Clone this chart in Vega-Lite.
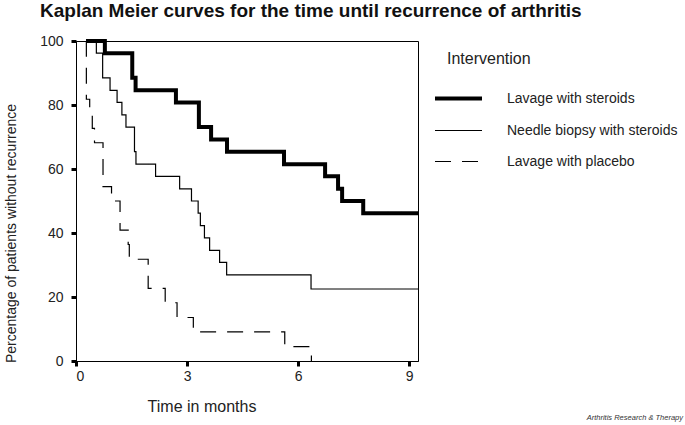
{
  "$schema": "https://vega.github.io/schema/vega-lite/v6.json",
  "background": "white",
  "padding": {"left": 3, "top": 1, "right": 0, "bottom": 0},
  "title": {"text": "Kaplan Meier curves for the time until recurrence of arthritis", "anchor": "start", "frame": "group", "font": "Liberation Sans", "fontSize": 19, "fontWeight": "bold", "color": "#111", "offset": 12, "dx": -36},
  "vconcat": [
    {
      "width": 342,
      "height": 320,
      "title": {"text": "Arthritis Research & Therapy", "orient": "bottom", "anchor": "end", "frame": "group", "font": "Liberation Sans", "fontSize": 7.5, "fontStyle": "italic", "fontWeight": "normal", "color": "#333", "offset": 0, "dx": 265},
      "data": {
        "values": [
          {"group": "Lavage with steroids", "t": 0.27, "v": 100},
          {"group": "Lavage with steroids", "t": 0.78, "v": 96.2},
          {"group": "Lavage with steroids", "t": 1.52, "v": 88.5},
          {"group": "Lavage with steroids", "t": 1.61, "v": 84.6},
          {"group": "Lavage with steroids", "t": 2.70, "v": 80.8},
          {"group": "Lavage with steroids", "t": 3.32, "v": 73.1},
          {"group": "Lavage with steroids", "t": 3.65, "v": 69.2},
          {"group": "Lavage with steroids", "t": 4.08, "v": 65.4},
          {"group": "Lavage with steroids", "t": 5.62, "v": 61.5},
          {"group": "Lavage with steroids", "t": 6.73, "v": 57.7},
          {"group": "Lavage with steroids", "t": 7.08, "v": 53.8},
          {"group": "Lavage with steroids", "t": 7.19, "v": 50.0},
          {"group": "Lavage with steroids", "t": 7.76, "v": 46.2},
          {"group": "Lavage with steroids", "t": 9.24, "v": 46.2},
          {"group": "Needle biopsy with steroids", "t": 0.27, "v": 100},
          {"group": "Needle biopsy with steroids", "t": 0.55, "v": 96.2},
          {"group": "Needle biopsy with steroids", "t": 0.72, "v": 88.5},
          {"group": "Needle biopsy with steroids", "t": 0.92, "v": 84.6},
          {"group": "Needle biopsy with steroids", "t": 1.11, "v": 80.8},
          {"group": "Needle biopsy with steroids", "t": 1.24, "v": 76.9},
          {"group": "Needle biopsy with steroids", "t": 1.35, "v": 73.1},
          {"group": "Needle biopsy with steroids", "t": 1.58, "v": 65.4},
          {"group": "Needle biopsy with steroids", "t": 1.62, "v": 61.5},
          {"group": "Needle biopsy with steroids", "t": 2.15, "v": 57.7},
          {"group": "Needle biopsy with steroids", "t": 2.80, "v": 53.8},
          {"group": "Needle biopsy with steroids", "t": 3.12, "v": 50.0},
          {"group": "Needle biopsy with steroids", "t": 3.30, "v": 46.2},
          {"group": "Needle biopsy with steroids", "t": 3.36, "v": 42.3},
          {"group": "Needle biopsy with steroids", "t": 3.47, "v": 38.5},
          {"group": "Needle biopsy with steroids", "t": 3.61, "v": 34.6},
          {"group": "Needle biopsy with steroids", "t": 3.88, "v": 30.8},
          {"group": "Needle biopsy with steroids", "t": 4.07, "v": 26.9},
          {"group": "Needle biopsy with steroids", "t": 6.35, "v": 22.5},
          {"group": "Needle biopsy with steroids", "t": 9.24, "v": 22.5},
          {"group": "Lavage with placebo", "t": 0.27, "v": 100},
          {"group": "Lavage with placebo", "t": 0.28, "v": 81.8},
          {"group": "Lavage with placebo", "t": 0.37, "v": 77.3},
          {"group": "Lavage with placebo", "t": 0.44, "v": 72.7},
          {"group": "Lavage with placebo", "t": 0.50, "v": 68.2},
          {"group": "Lavage with placebo", "t": 0.73, "v": 54.5},
          {"group": "Lavage with placebo", "t": 0.96, "v": 50.0},
          {"group": "Lavage with placebo", "t": 1.19, "v": 40.9},
          {"group": "Lavage with placebo", "t": 1.41, "v": 36.4},
          {"group": "Lavage with placebo", "t": 1.44, "v": 31.8},
          {"group": "Lavage with placebo", "t": 1.95, "v": 22.7},
          {"group": "Lavage with placebo", "t": 2.41, "v": 18.2},
          {"group": "Lavage with placebo", "t": 2.73, "v": 13.6},
          {"group": "Lavage with placebo", "t": 3.17, "v": 9.1},
          {"group": "Lavage with placebo", "t": 5.64, "v": 4.5},
          {"group": "Lavage with placebo", "t": 6.36, "v": 0}
        ]
      },
      "mark": {"type": "line", "interpolate": "step-after", "color": "#000"},
      "encoding": {
        "x": {
          "field": "t", "type": "quantitative",
          "scale": {"domain": [0, 9.24], "nice": false, "zero": false},
          "axis": {"values": [0, 3, 6, 9], "grid": false, "tickSize": 5, "tickWidth": 3, "tickColor": "#000", "domainColor": "#000", "labelFontSize": 14, "labelColor": "#222", "labelPadding": 3, "labelFont": "Liberation Sans",
                   "title": "Time in months", "titleFont": "Liberation Sans", "titleFontSize": 16, "titleFontWeight": "normal", "titleColor": "#222", "titleX": 125.5, "titleY": 50, "titleBaseline": "alphabetic"}
        },
        "y": {
          "field": "v", "type": "quantitative",
          "scale": {"domain": [0, 100], "nice": false},
          "axis": {"values": [0, 20, 40, 60, 80, 100], "grid": false, "tickSize": 5, "tickWidth": 3, "tickColor": "#000", "domainColor": "#000", "labelFontSize": 14, "labelColor": "#222", "labelPadding": 8, "labelFont": "Liberation Sans",
                   "title": "Percentage of patients without recurrence", "titleFont": "Liberation Sans", "titleFontSize": 14, "titleFontWeight": "normal", "titleColor": "#222", "titleX": -58, "titleY": 192}
        },
        "strokeWidth": {
          "field": "group", "type": "nominal",
          "scale": {"type": "ordinal", "domain": ["Lavage with steroids", "Needle biopsy with steroids", "Lavage with placebo"], "range": [4, 1.2, 1.2]},
          "legend": {"title": "Intervention", "orient": "none", "legendX": 371, "legendY": 10, "padding": 0, "titleFont": "Liberation Sans", "titleFontSize": 16, "titleFontWeight": "normal", "titleColor": "#222", "titlePadding": 20, "labelFont": "Liberation Sans", "labelFontSize": 14, "labelColor": "#222", "labelOffset": 37, "labelLimit": 300, "symbolType": "M-2.474,0H2.474", "symbolSize": 361, "symbolStrokeColor": "#000", "rowPadding": 13}
        },
        "strokeDash": {
          "field": "group", "type": "nominal",
          "scale": {"domain": ["Lavage with steroids", "Needle biopsy with steroids", "Lavage with placebo"], "range": [[1, 0], [1, 0], [16, 11]]},
          "legend": {"title": "Intervention", "orient": "none", "legendX": 371, "legendY": 10, "padding": 0, "titleFont": "Liberation Sans", "titleFontSize": 16, "titleFontWeight": "normal", "titleColor": "#222", "titlePadding": 20, "labelFont": "Liberation Sans", "labelFontSize": 14, "labelColor": "#222", "labelOffset": 37, "labelLimit": 300, "symbolType": "M-2.474,0H2.474", "symbolSize": 361, "symbolStrokeColor": "#000", "rowPadding": 13}
        }
      }
    }
  ],
  "config": {"view": {"stroke": "#000", "strokeWidth": 1}, "font": "Liberation Sans", "concat": {"spacing": 0}}
}
